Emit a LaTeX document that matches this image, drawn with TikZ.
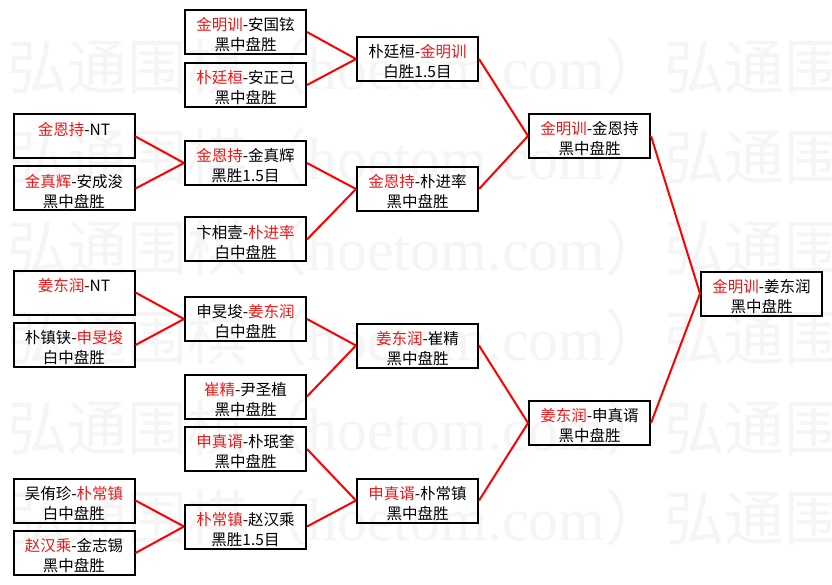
\documentclass[tikz,border=0pt]{standalone}
\usepackage{fontspec}
\newfontfamily\cjk{Noto Sans CJK SC}
\newfontfamily\wmlatin{Liberation Serif}
\definecolor{winred}{RGB}{235,25,25}
\definecolor{wmgray}{RGB}{245,245,245}
\newcommand{\Rd}[1]{\textcolor{winred}{#1}}
\newcommand{\gm}[2]{\raisebox{-8.5pt}[0pt][0pt]{\begin{tabular}{@{}c@{}}#1\\#2\end{tabular}}}
\tikzset{
  game/.style={draw=black, line width=2pt, minimum width=121pt, minimum height=44pt,
    inner sep=0pt, align=center, font=\cjk\fontsize{15.5}{20}\selectfont},
  conn/.style={draw=red, line width=2pt},
  wmark/.style={inner sep=0pt, text=wmgray, font=\cjk\fontsize{60}{60}\selectfont, anchor=base west}
}
\begin{document}
\begin{tikzpicture}[x=1pt,y=-1pt]
\useasboundingbox (0,0) rectangle (832,585);
\fill[white] (0,0) rectangle (832,585);
% watermark
\foreach \k in {0,...,5}{
  \foreach \xx in {7,664}{
    \node[wmark] (wm\k x\xx) at (\xx,90+90*\k) {弘通围棋（{\wmlatin hoetom.com}）};
  }
}
% column A
\node[game] (A1) at (74,136.5) {\gm{\Rd{金恩持}-NT}{\phantom{黑}}};
\node[game] (A2) at (74,188.5) {\gm{\Rd{金真辉}-安成浚}{黑中盘胜}};
\node[game] (A3) at (74,292.5) {\gm{\Rd{姜东润}-NT}{\phantom{黑}}};
\node[game] (A4) at (74,345) {\gm{朴镇铗-\Rd{申旻埈}}{白中盘胜}};
\node[game] (A5) at (74,500.5) {\gm{吴侑珍-\Rd{朴常镇}}{白中盘胜}};
\node[game] (A6) at (74,553) {\gm{\Rd{赵汉乘}-金志锡}{黑中盘胜}};
% column B
\node[game] (B1) at (245.5,32) {\gm{\Rd{金明训}-安国铉}{黑中盘胜}};
\node[game] (B2) at (245.5,85) {\gm{\Rd{朴廷桓}-安正己}{黑中盘胜}};
\node[game] (B3) at (245.5,163) {\gm{\Rd{金恩持}-金真辉}{黑胜1.5目}};
\node[game] (B4) at (245.5,239.5) {\gm{卞相壹-\Rd{朴进率}}{白中盘胜}};
\node[game] (B5) at (245.5,319) {\gm{申旻埈-\Rd{姜东润}}{白中盘胜}};
\node[game] (B6) at (245.5,396.5) {\gm{\Rd{崔精}-尹圣植}{黑中盘胜}};
\node[game] (B7) at (245.5,449) {\gm{\Rd{申真谞}-朴珉奎}{黑中盘胜}};
\node[game] (B8) at (245.5,526.5) {\gm{\Rd{朴常镇}-赵汉乘}{黑胜1.5目}};
% column C
\node[game] (C1) at (417.5,59) {\gm{朴廷桓-\Rd{金明训}}{白胜1.5目}};
\node[game] (C2) at (417.5,189) {\gm{\Rd{金恩持}-朴进率}{黑中盘胜}};
\node[game] (C3) at (417.5,345.5) {\gm{\Rd{姜东润}-崔精}{黑中盘胜}};
\node[game] (C4) at (417.5,500.5) {\gm{\Rd{申真谞}-朴常镇}{黑中盘胜}};
% column D
\node[game] (D1) at (589.5,136) {\gm{\Rd{金明训}-金恩持}{黑中盘胜}};
\node[game] (D2) at (589.5,423) {\gm{\Rd{姜东润}-申真谞}{黑中盘胜}};
% final
\node[game] (E1) at (761.5,293.5) {\gm{\Rd{金明训}-姜东润}{黑中盘胜}};
% connectors
\draw[conn] (A1.east) -- (B3.west);
\draw[conn] (A2.east) -- (B3.west);
\draw[conn] (A3.east) -- (B5.west);
\draw[conn] (A4.east) -- (B5.west);
\draw[conn] (A5.east) -- (B8.west);
\draw[conn] (A6.east) -- (B8.west);
\draw[conn] (B1.east) -- (C1.west);
\draw[conn] (B2.east) -- (C1.west);
\draw[conn] (B3.east) -- (C2.west);
\draw[conn] (B4.east) -- (C2.west);
\draw[conn] (B5.east) -- (C3.west);
\draw[conn] (B6.east) -- (C3.west);
\draw[conn] (B7.east) -- (C4.west);
\draw[conn] (B8.east) -- (C4.west);
\draw[conn] (C1.east) -- (D1.west);
\draw[conn] (C2.east) -- (D1.west);
\draw[conn] (C3.east) -- (D2.west);
\draw[conn] (C4.east) -- (D2.west);
\draw[conn] (D1.east) -- (E1.west);
\draw[conn] (D2.east) -- (E1.west);
\end{tikzpicture}
\end{document}
